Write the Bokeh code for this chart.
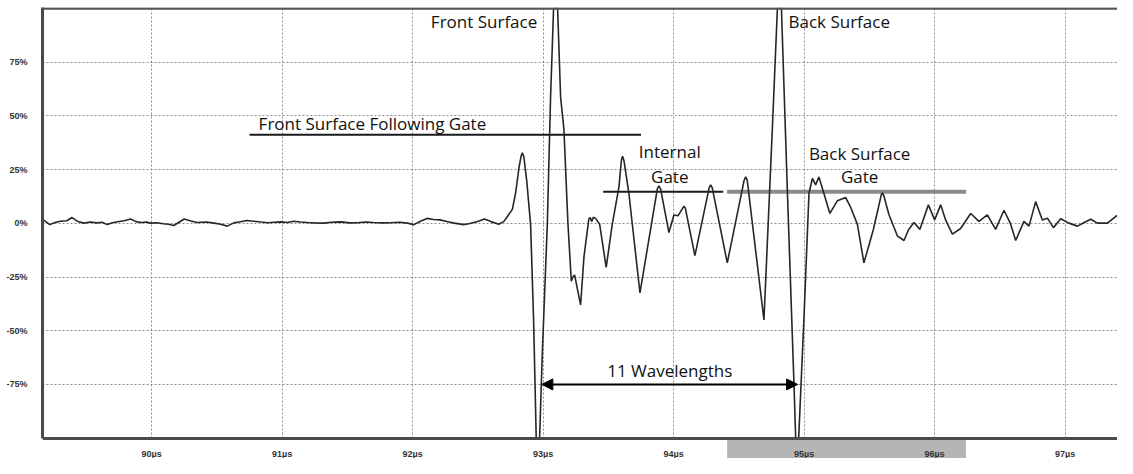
from bokeh.plotting import figure
from bokeh.models import (Range1d, FixedTicker, PrintfTickFormatter, Arrow, NormalHead,
                          Label, Span, BoxAnnotation)
from bokeh.embed import file_html
from bokeh.resources import INLINE

# ---- data (time in microseconds, amplitude in % of full screen height) ----
time_us = [
    89.17, 89.22, 89.26, 89.30, 89.35, 89.39, 89.43, 89.48, 89.53, 89.58, 89.62, 89.66,
    89.70, 89.74, 89.79, 89.84, 89.88, 89.92, 89.96, 89.99, 90.04, 90.09, 90.13, 90.17,
    90.21, 90.25, 90.30, 90.35, 90.42, 90.48, 90.53, 90.58, 90.63, 90.68, 90.73, 90.78,
    90.84, 90.89, 90.94, 90.99, 91.04, 91.09, 91.14, 91.19, 91.25, 91.32, 91.38, 91.45,
    91.52, 91.58, 91.64, 91.70, 91.77, 91.83, 91.90, 91.96, 92.01, 92.06, 92.11, 92.16,
    92.21, 92.27, 92.32, 92.39, 92.43, 92.47, 92.51, 92.55, 92.60, 92.66, 92.70, 92.764,
    92.789, 92.815, 92.832, 92.841, 92.852, 92.874, 92.904, 92.927, 92.947, 92.973, 92.994,
    93.032, 93.057, 93.080, 93.111, 93.134, 93.159, 93.190, 93.216, 93.228, 93.241, 93.287,
    93.313, 93.351, 93.362, 93.372, 93.385, 93.402, 93.433, 93.483, 93.530, 93.581, 93.600,
    93.609, 93.620, 93.657, 93.742, 93.875, 93.887, 93.900, 93.964, 94.002, 94.033, 94.079,
    94.090, 94.163, 94.272, 94.284, 94.296, 94.411, 94.540, 94.552, 94.564, 94.692, 94.757,
    94.795, 94.826, 94.872, 94.922, 94.935, 94.958, 94.998, 95.037, 95.063, 95.088, 95.113,
    95.151, 95.197, 95.254, 95.318, 95.356, 95.408, 95.458, 95.530, 95.590, 95.599, 95.610,
    95.650, 95.714, 95.765, 95.800, 95.841, 95.887, 95.952, 96.000, 96.046, 96.084, 96.136,
    96.199, 96.276, 96.339, 96.404, 96.467, 96.531, 96.580, 96.621, 96.684, 96.723, 96.774,
    96.825, 96.864, 96.910, 96.966, 97.029, 97.094, 97.150, 97.196, 97.247, 97.324, 97.395,
    97.451, 97.515,
]
amplitude_pct = [
    1.6, -0.6, 0.4, 1.0, 1.2, 2.7, 1.0, 0.1, 0.6, 0.2, 0.5, -0.6,
    0.3, 0.7, 1.2, 2.0, 0.8, 0.4, 0.6, 0.1, 0.3, -0.2, -0.4, -1.0,
    0.5, 2.0, 1.1, 0.4, 0.6, 0.1, -0.4, -1.3, 0.2, 0.7, 1.3, 1.0,
    0.6, 0.3, 0.5, 0.7, 0.4, 1.0, 0.6, 0.4, 0.2, 0.1, 0.5, 0.7,
    0.2, 0.3, 0.6, 0.4, 0.2, 0.3, 0.5, 0.1, -0.6, 1.0, 2.3, 1.8,
    1.6, 0.7, 0.1, -0.6, -0.2, 0.4, 1.1, 2.0, 0.8, -0.4, 0.9, 6.5,
    14.0, 26.0, 31.5, 32.8, 31.0, 20.0, -0.5, -45.0, -100.0, -100.0, -60.0,
    -0.5, 58.6, 100.0, 100.0, 58.6, 44.0, 0.0, -27.0, -25.0, -24.0, -38.0,
    -15.5, 2.3, 2.6, 0.9, 2.8, 2.3, -0.4, -20.5, -0.4, 17.0, 29.5,
    31.2, 29.0, 14.0, -32.4, 16.0, 17.5, 16.0, -4.3, 3.9, 3.5, 8.0,
    7.0, -15.0, 16.5, 17.9, 16.5, -18.4, 20.0, 21.6, 20.0, -45.0, 45.0,
    100.0, 100.0, 14.0, -74.6, -100.0, -100.0, -45.0, 14.0, 20.9, 17.9, 21.6,
    14.0, 4.6, 10.5, 12.0, 7.5, -0.5, -18.4, -3.0, 13.0, 14.2, 13.0,
    4.0, -5.8, -8.0, -3.0, 0.4, -2.8, 8.6, 1.6, 8.6, 1.6, -5.0,
    -2.4, 4.6, 0.9, 3.9, -2.8, 6.1, 0.0, -8.0, 0.9, -1.3, 10.1,
    1.6, 2.4, -2.0, 2.1, 0.1, -1.3, 0.5, 1.9, 0.1, 0.1, 3.6,
    0.1, -2.4,
]

x_ticks_us = [90, 91, 92, 93, 94, 95, 96, 97]
y_ticks_pct = [-75, -50, -25, 0, 25, 50, 75]

gate_names = ["Front Surface Following Gate", "Internal Gate", "Back Surface Gate"]
gate_start_us = [90.75, 93.46, 94.41]
gate_end_us = [93.75, 94.38, 96.24]
gate_level_pct = [41.3, 14.7, 14.7]

wavelength_span_us = [92.99, 94.95]   # front-surface to back-surface minimum
wavelength_count = 11

# ---- figure ----
W, H = 1117, 458
p = figure(width=W, height=H, output_backend="svg", toolbar_location=None,
           x_range=Range1d(89.164, 97.401), y_range=Range1d(-109.5, 100.5),
           min_border_left=42, min_border_right=0, min_border_top=7, min_border_bottom=0)
p.outline_line_color = None
p.background_fill_color = "white"
p.border_fill_color = "white"

for ax in (p.xaxis[0], p.yaxis[0]):
    ax.major_tick_line_color = None
    ax.minor_tick_line_color = None
    ax.axis_line_color = "#4a4a4a"
    ax.axis_line_width = 3
    ax.major_label_text_font = "Liberation Sans"
    ax.major_label_text_font_style = "bold"
    ax.major_label_text_font_size = "9px"
    ax.major_label_text_color = "#333333"

p.xaxis.ticker = FixedTicker(ticks=x_ticks_us)
p.xaxis.formatter = PrintfTickFormatter(format="%dµs")
p.xaxis.major_label_standoff = 5
p.xaxis.fixed_location = -100
p.yaxis.ticker = FixedTicker(ticks=y_ticks_pct)
p.yaxis.formatter = PrintfTickFormatter(format="%d%%")
p.yaxis.major_label_standoff = 9
p.yaxis.bounds = (-100, 100.5)

for g in (p.xgrid[0], p.ygrid[0]):
    g.grid_line_color = "#8c8c8c"
    g.grid_line_dash = "2 2"
    g.grid_line_width = 1
p.xgrid.ticker = FixedTicker(ticks=x_ticks_us)
p.ygrid.ticker = FixedTicker(ticks=y_ticks_pct)

# strip below the time axis (hides grid lines, holds the tick labels)
p.add_layout(BoxAnnotation(top=-100, fill_color="white", fill_alpha=1.0,
                           line_color=None, level="underlay"))
# gray band under the time axis marking the back-surface gate
p.add_layout(BoxAnnotation(left=gate_start_us[2], right=gate_end_us[2], top=-100,
                           fill_color="#b5b5b5", fill_alpha=1.0,
                           line_color=None, level="underlay"))

# top border of the screen
p.add_layout(Span(location=100, dimension="width", line_color="#555555", line_width=2.5))

# gates
gate_colors = ["#1a1a1a", "#1a1a1a", "#8a8a8a"]
gate_widths = [2, 2, 4]
for s, e, lvl, c, w in zip(gate_start_us, gate_end_us, gate_level_pct, gate_colors, gate_widths):
    p.segment(x0=[s], y0=[lvl], x1=[e], y1=[lvl], line_color=c, line_width=w)

# waveform
p.line(time_us, amplitude_pct, line_color="#262626", line_width=1.6)

# wavelength arrow
p.add_layout(Arrow(x_start=wavelength_span_us[0], y_start=-75,
                   x_end=wavelength_span_us[1], y_end=-75,
                   line_color="black", line_width=2,
                   start=NormalHead(size=11, fill_color="black", line_color="black"),
                   end=NormalHead(size=11, fill_color="black", line_color="black")))

FONT = "Open Sans"
FS = "17px"
def lab(x, y, text, align="left"):
    p.add_layout(Label(x=x, y=y, text=text, text_font=FONT, text_font_size=FS,
                       text_color="#111111", text_align=align, text_baseline="middle"))

lab(92.955, 94.0, "Front Surface", "right")
lab(94.88, 94.0, "Back Surface")
lab(90.82, 46.5, gate_names[0])
lab(93.97, 33.5, "Internal", "center")
lab(93.97, 22.0, "Gate", "center")
lab(95.425, 32.5, "Back Surface", "center")
lab(95.425, 22.0, "Gate", "center")
lab(sum(wavelength_span_us) / 2, -68.5, f"{wavelength_count} Wavelengths", "center")

open("out.html", "w").write(file_html(p, INLINE))
